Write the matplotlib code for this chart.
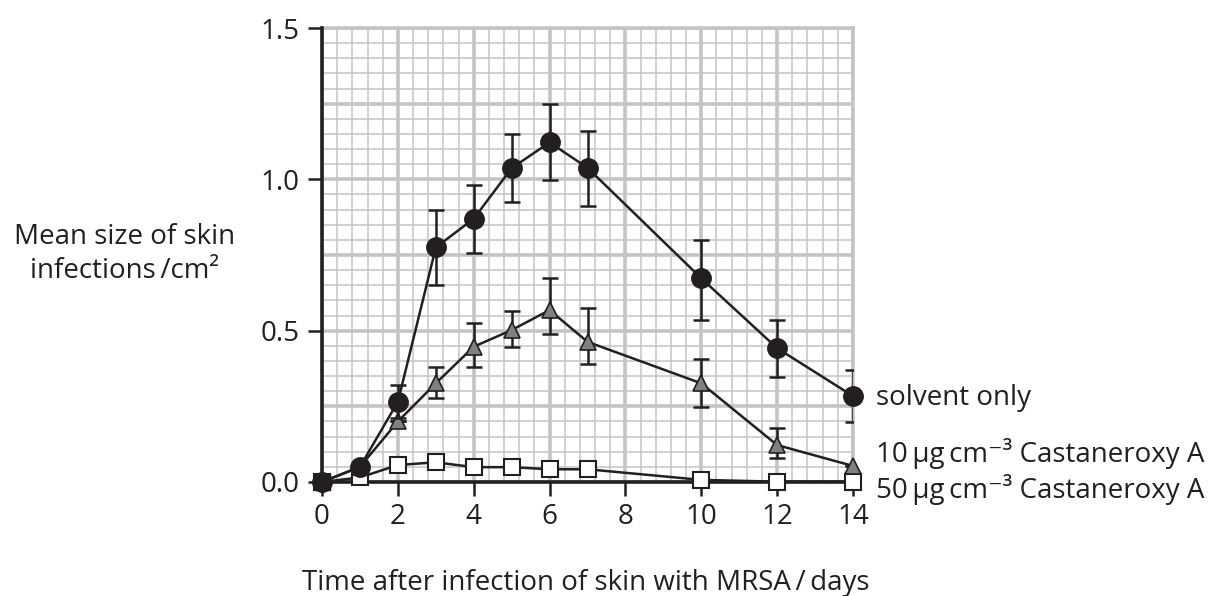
import matplotlib
matplotlib.use("Agg")
import matplotlib.pyplot as plt

plt.rcParams['font.family'] = ['Open Sans', 'DejaVu Sans']

days = [0, 1, 2, 3, 4, 5, 6, 7, 10, 12, 14]

solvent = [0, 0.05, 0.265, 0.775, 0.87, 1.037, 1.122, 1.038, 0.673, 0.442, 0.284]
solvent_lo = [0, 0, 0.055, 0.125, 0.115, 0.112, 0.123, 0.125, 0.139, 0.094, 0.085]
solvent_hi = [0, 0, 0.055, 0.125, 0.11, 0.113, 0.126, 0.122, 0.127, 0.092, 0.086]

c10 = [0, 0.05, 0.2, 0.326, 0.447, 0.502, 0.568, 0.463, 0.326, 0.122, 0.053]
c10_lo = [0, 0, 0, 0.05, 0.066, 0.057, 0.08, 0.074, 0.077, 0.044, 0]
c10_hi = [0, 0, 0, 0.055, 0.079, 0.063, 0.105, 0.111, 0.079, 0.057, 0]

c50 = [0, 0.015, 0.056, 0.065, 0.049, 0.049, 0.042, 0.042, 0.007, 0.001, 0.001]

series_labels = ["solvent only",
                 "10\u2009\u03bcg\u2009cm\u207b\u00b3 Castaneroxy A",
                 "50\u2009\u03bcg\u2009cm\u207b\u00b3 Castaneroxy A"]

x_ticks = [0, 2, 4, 6, 8, 10, 12, 14]
y_ticks = [0, 0.5, 1.0, 1.5]
y_tick_labels = ['0.0', '0.5', '1.0', '1.5']

FS = 20
ink = '#231f20'

fig = plt.figure(figsize=(12.13, 5.96), dpi=100)
ax = fig.add_axes([0.2655, 0.1913, 0.4377, 0.7617])

ax.set_xlim(0, 14)
ax.set_ylim(0, 1.5)

grid_col = '#c4c4c8'
for i in range(36):
    v = i * 0.4
    ax.axvline(v, color=grid_col, lw=2.6 if i % 5 == 0 else 1.1, zorder=0.5)
for j in range(31):
    v = j * 0.05
    ax.axhline(v, color=grid_col, lw=2.6 if j % 5 == 0 else 1.1, zorder=0.5)
ax.axvline(14, color=grid_col, lw=2.6, zorder=0.5, clip_on=False)
ax.axhline(1.5, color=grid_col, lw=2.6, zorder=0.5, clip_on=False)

for s in ['top', 'right']:
    ax.spines[s].set_visible(False)
for s in ['left', 'bottom']:
    ax.spines[s].set_linewidth(2.6)
    ax.spines[s].set_color(ink)
    ax.spines[s].set_zorder(3)

ax.tick_params(axis='both', which='major', direction='out', length=10, width=1.8,
               color=ink, labelsize=FS, labelcolor=ink)
ax.tick_params(axis='y', pad=6)
ax.tick_params(axis='x', pad=5)
ax.tick_params(axis='both', which='minor', length=0)
ax.set_xticks(x_ticks)
ax.set_yticks(y_ticks)
ax.set_yticklabels(y_tick_labels)

# 50 ug series
ax.plot(days, c50, color=ink, lw=1.8, marker='s', markersize=11, markerfacecolor='white',
        markeredgecolor=ink, markeredgewidth=1.5, zorder=4, clip_on=False)
# 10 ug series
ax.errorbar(days, c10, yerr=[c10_lo, c10_hi], fmt='none', ecolor=ink, elinewidth=1.8,
            capsize=6, capthick=1.8, zorder=5)
ax.plot(days, c10, color=ink, lw=1.8, marker='^', markersize=12, markerfacecolor='#808080',
        markeredgecolor=ink, markeredgewidth=1.2, zorder=5, clip_on=False)
# solvent
ax.errorbar(days, solvent, yerr=[solvent_lo, solvent_hi], fmt='none', ecolor=ink, elinewidth=1.8,
            capsize=6, capthick=1.8, zorder=6)
ax.plot(days, solvent, color=ink, lw=1.8, marker='o', markersize=14, markerfacecolor=ink,
        markeredgecolor=ink, zorder=6, clip_on=False)
ax.plot([0], [0], marker='s', markersize=12, color=ink, zorder=7, clip_on=False)

fig.text(876 / 1213, 1 - 405 / 596, series_labels[0], fontsize=FS, color=ink, va='baseline', ha='left')
fig.text(876 / 1213, 1 - 462 / 596, series_labels[1], fontsize=FS, color=ink, va='baseline', ha='left')
fig.text(876 / 1213, 1 - 498 / 596, series_labels[2], fontsize=FS, color=ink, va='baseline', ha='left')

fig.text(125 / 1213, 1 - 254 / 596, "Mean size of skin\ninfections\u2009/cm\u00b2", fontsize=FS,
         color=ink, ha='center', va='center', linespacing=1.3)
fig.text(586 / 1213, 1 - 590 / 596, "Time after infection of skin with MRSA\u2009/\u2009days",
         fontsize=FS, color=ink, ha='center', va='baseline')

fig.savefig("out.png", dpi=100)
